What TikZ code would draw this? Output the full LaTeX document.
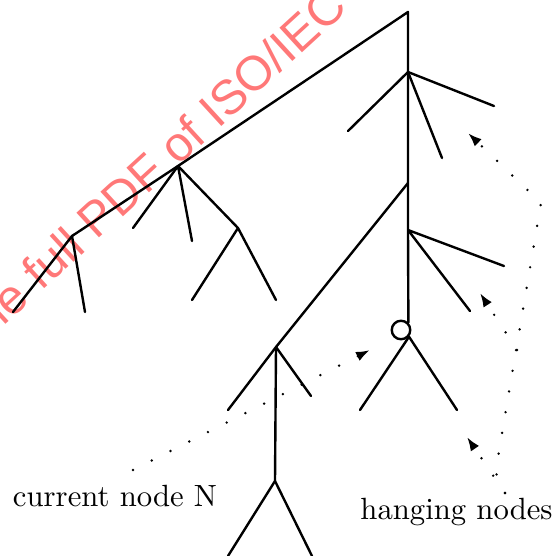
\documentclass[tikz,border=0pt]{standalone}
\usepackage{fontspec}
\newfontfamily\wmfont{Liberation Sans}
\usetikzlibrary{arrows.meta}
\definecolor{wmred}{RGB}{255,120,120}
\begin{document}
\begin{tikzpicture}[x=1pt,y=-1pt,
  branch/.style={line width=2.4pt, line cap=round, line join=round},
  dotarrow/.style={line width=2.7pt, line cap=round, dash pattern=on 0pt off 21pt, -{Latex[length=14pt,width=10pt]}},
  lbl/.style={font=\fontsize{10}{12}\selectfont, scale=3.07, inner sep=0pt, anchor=base},
  wm/.style={font=\wmfont\fontsize{48.5}{55}\selectfont, text=wmred, inner sep=0pt}]
\useasboundingbox (0,0) rectangle (556,555);
\begin{scope}
\clip (0,0) rectangle (556,555);
\node[wm, rotate=42.5, anchor=base west] (wmark) at (218,130) {\llap{Click to view the full PDF of }ISO/IEC};
\end{scope}
% tree points
\coordinate (A) at (408,12);
\coordinate (B) at (178,166);
\coordinate (K) at (72,236);
\coordinate (L) at (13,312);
\coordinate (K2) at (85,312);
\coordinate (B1) at (133,228);
\coordinate (B2) at (192,241);
\coordinate (C) at (238,228);
\coordinate (C1) at (192,300);
\coordinate (C2) at (276,300);
\coordinate (D) at (408,72);
\coordinate (D1) at (348,131);
\coordinate (D2) at (442,158);
\coordinate (D3) at (494,106);
\coordinate (E) at (408,183);
\coordinate (F) at (408,230);
\coordinate (F1) at (504,266);
\coordinate (F2) at (470,311);
\node[circle,draw,line width=2.4pt,minimum size=18.5pt,inner sep=0pt] (O) at (401,330) {};
\coordinate (O1) at (360,410);
\coordinate (O2) at (457,410);
\coordinate (G) at (276,347);
\coordinate (G1) at (228,410);
\coordinate (G2) at (311,396);
\coordinate (H) at (275,481);
\coordinate (H1) at (228,556);
\coordinate (H2) at (312,556);
% branches
\draw[branch] (L) -- (K) -- (B) -- (A) -- (D) -- (E) -- (F) -- (O.45);
\draw[branch] (K) -- (K2);
\draw[branch] (B1) -- (B) -- (B2);
\draw[branch] (B) -- (C);
\draw[branch] (C1) -- (C) -- (C2);
\draw[branch] (D1) -- (D) -- (D2);
\draw[branch] (D) -- (D3);
\draw[branch] (F1) -- (F) -- (F2);
\draw[branch] (E) -- (G);
\draw[branch] (G1) -- (G) -- (G2);
\draw[branch] (G) -- (H);
\draw[branch] (H1) -- (H) -- (H2);
\draw[branch] (O1) -- (O.-40) -- (O2);
% labels
\node[lbl] (cur) at (115,506) {current node N};
\node[lbl] (hang) at (456.5,519) {hanging nodes};
% dotted arrows
\coordinate (N0) at (133,470);
\coordinate (NT) at (370,350);
\draw[dotarrow] (N0) -- (NT);
\coordinate (S) at (505,493);
\coordinate (S1) at (500,445);
\coordinate (M1) at (541,203);
\coordinate (T1) at (468,133);
\coordinate (Q) at (517,350);
\coordinate (T2) at (480,293);
\coordinate (T3) at (467,437);
\draw[dotarrow] (S) .. controls (492,482) and (497,465) .. (S1) -- (M1) -- (T1);
\draw[dotarrow] (Q) -- (T2);
\draw[dotarrow] (S) -- (T3);
\end{tikzpicture}
\end{document}
